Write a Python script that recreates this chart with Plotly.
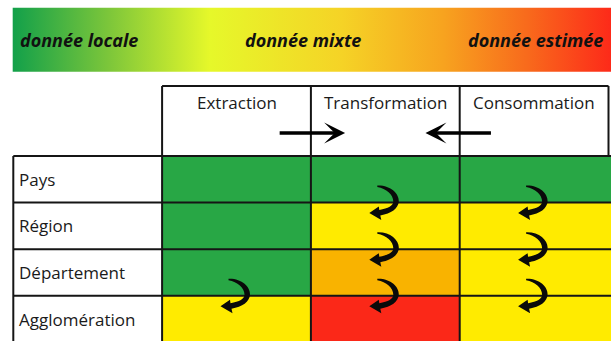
import plotly.graph_objects as go

# ---------------- data ----------------
levels = ["Pays", "Région", "Département", "Agglomération"]
stages = ["Extraction", "Transformation", "Consommation"]
# data quality per level (rows) and stage (columns):
# 0 = donnée locale, 1 = donnée mixte, 2 = mixte / tendant vers estimée, 3 = donnée estimée
quality = [
    [0, 0, 0],
    [0, 1, 1],
    [0, 2, 1],
    [1, 3, 1],
]
quality_colors = ["#28a745", "#ffeb00", "#f9b300", "#fb2818"]

# vertical transfers (downscaling) : stage, from level, to level
downscaling = [
    ("Transformation", "Pays", "Région"),
    ("Transformation", "Région", "Département"),
    ("Transformation", "Département", "Agglomération"),
    ("Consommation", "Pays", "Région"),
    ("Consommation", "Région", "Département"),
    ("Consommation", "Département", "Agglomération"),
    ("Extraction", "Département", "Agglomération"),
]
# horizontal flows between stages
flows = [("Extraction", "Transformation"), ("Consommation", "Transformation")]

scale_labels = ["donnée locale", "donnée mixte", "donnée estimée"]
scale_stops = [0.0, 0.16, 0.33, 0.55, 0.72, 0.86, 1.0]
scale_colors = ["#12a04a", "#7cc63a", "#e6f82a", "#f5d326", "#f7a31f", "#f86a1c", "#fd2a19"]

# ---------------- layout geometry (pixels) ----------------
W, H = 611, 341
X0, CW = 13.3, 148.8       # left border of table, column width
Y0, RH = 156.0, 46.6       # top of first data row, row height


def dx(px):
    return (px - X0) / CW


def dy(py):
    return (py - Y0) / RH


xr = [dx(0), dx(W)]
yr = [dy(H), dy(0)]
HEADER_TOP = dy(86)
FONT = "Open Sans"
LINE = "#151515"

fig = go.Figure()

# gradient scale bar
bx0, bx1, by0, by1 = dx(12.7), dx(W), dy(7.7), dy(71.7)
fig.add_trace(go.Scatter(
    x=[bx0, bx1, bx1, bx0, bx0], y=[by0, by0, by1, by1, by0],
    mode="lines", fill="toself", line=dict(width=0),
    fillgradient=dict(type="horizontal",
                      colorscale=[[s, c] for s, c in zip(scale_stops, scale_colors)]),
    hoverinfo="skip", showlegend=False,
))
label_pos = [(dx(18), "left"), (dx(303), "center"), (dx(605), "right")]
for lab, (px_, anc) in zip(scale_labels, label_pos):
    fig.add_annotation(x=px_, y=dy(40), text=lab, showarrow=False, xanchor=anc,
                       yanchor="middle",
                       font=dict(family=FONT, size=18, weight="bold", style="italic",
                                 color="#111111"))

# coloured cells
n = len(quality_colors) - 1
fig.add_trace(go.Heatmap(
    x=[1, 2, 3, 4.05], y=list(range(len(levels) + 1)),
    z=quality, zmin=0, zmax=n,
    colorscale=[[i / n, c] for i, c in enumerate(quality_colors)],
    showscale=False, hoverinfo="skip",
))

# grid lines
def line(x0, y0, x1, y1):
    fig.add_shape(type="line", x0=x0, y0=y0, x1=x1, y1=y1, xref="x", yref="y",
                  line=dict(color=LINE, width=2))


nL, nS = len(levels), len(stages)
line(1, HEADER_TOP, nS + 1, HEADER_TOP)
for j in range(nL + 1):
    line(0, j, nS + 1.05, j)
for i in range(nS + 2):
    top = 0 if i == 0 else HEADER_TOP
    bottom = nL if i <= nS else 0
    line(i, top, i, bottom)

# header and row labels
for i, s in enumerate(stages):
    fig.add_annotation(x=i + 1.5, y=dy(102), text=s, showarrow=False,
                       font=dict(family=FONT, size=17, color="#1a1a1a"))
for j, lv in enumerate(levels):
    fig.add_annotation(x=0, y=j + 0.5, text=lv, showarrow=False, xanchor="left",
                       xshift=4, font=dict(family=FONT, size=17, color="#1a1a1a"))

# horizontal flow arrows
for src, dst in flows:
    a, b = stages.index(src) + 1, stages.index(dst) + 1
    d = 1 if b > a else -1
    boundary = max(a, b)
    fig.add_annotation(x=boundary + d * 0.23, y=dy(133), ax=boundary - d * 0.22, ay=dy(133),
                       xref="x", yref="y", axref="x", ayref="y", text="",
                       showarrow=True, arrowhead=3, arrowwidth=3.5, arrowsize=1.0,
                       arrowcolor="#000000", standoff=0)

# curved downscaling arrows (path in screen pixels relative to anchor, y down)
curve = [
    ("M", (-8, -17)),
    ("C", (5, -17.5), (14, -9), (13.5, -1)),
    ("C", (13, 6), (6, 11), (-5, 13)),
    ("L", (-4, 17.5)),
    ("L", (-16, 10.5)),
    ("L", (-6.5, 4)),
    ("L", (-6, 7.5)),
    ("C", (3, 6), (8, 3), (8, -1)),
    ("C", (8, -8), (1, -14), (-8, -15.5)),
]


def path_string():
    parts = []
    for cmd, *pts in curve:
        parts.append(cmd + " ".join(f"{x},{-y}" for x, y in pts))
    return " ".join(parts) + " Z"


p = path_string()
for stage, lv_from, lv_to in downscaling:
    cx = stages.index(stage) + 1.5
    by = levels.index(lv_to)
    fig.add_shape(type="path", path=p, xref="x", yref="y",
                  xsizemode="pixel", ysizemode="pixel", xanchor=cx, yanchor=by,
                  fillcolor="#0a0a0a", line=dict(width=0))

fig.update_xaxes(range=xr, visible=False, fixedrange=True)
fig.update_yaxes(range=yr, visible=False, fixedrange=True)
fig.update_layout(width=W, height=H, margin=dict(l=0, r=0, t=0, b=0),
                  paper_bgcolor="white", plot_bgcolor="white", showlegend=False)

fig.write_html("out.html", config={"displayModeBar": False},
               post_script="document.body.style.margin='0';"
                           "document.body.style.overflow='hidden';")
